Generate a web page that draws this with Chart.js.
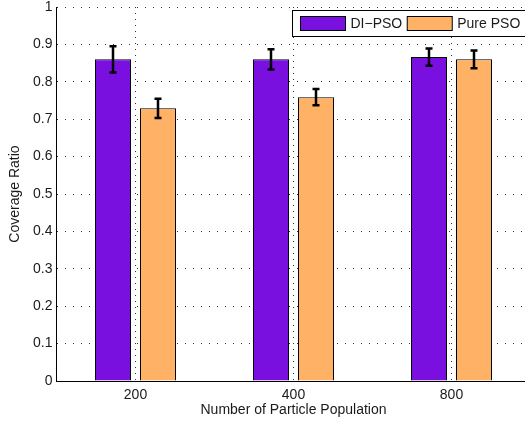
<!DOCTYPE html>
<html>
<head>
<meta charset="utf-8">
<script src="https://cdn.jsdelivr.net/npm/chart.js@4.4.1/dist/chart.umd.min.js"></script>
<style>
html, body { margin:0; padding:0; background:#fff; overflow:hidden; }
#wrap { width:540px; height:423px; }
</style>
</head>
<body>
<div id="wrap"><canvas id="chart" width="540" height="423"></canvas></div>
<script>
// data
const categories = ["200", "400", "800"];
const seriesNames = ["DI\u2212PSO", "Pure PSO"];
const diPso = [0.860, 0.860, 0.866];
const diPsoErr = [0.035, 0.027, 0.023];
const purePso = [0.729, 0.759, 0.860];
const purePsoErr = [0.026, 0.022, 0.024];
const yTickValues = [0, 0.1, 0.2, 0.3, 0.4, 0.5, 0.6, 0.7, 0.8, 0.9, 1];

const PURPLE = "#7a10e0";
const ORANGE = "#ffb266";
const TEXT = "#1a1a1a";
const GRID = "#333";
const FONT = "'Liberation Sans', Arial, Helvetica, sans-serif";

const errors = [diPsoErr, purePsoErr];

// error bars, positioned through the chart's own scales
const errorBarPlugin = {
  id: "errorBars",
  afterDatasetsDraw(chart){
    const ctx = chart.ctx;
    const y = chart.scales.y;
    ctx.save();
    ctx.strokeStyle = "#000";
    ctx.lineWidth = 2.5;
    chart.data.datasets.forEach((ds, i) => {
      const meta = chart.getDatasetMeta(i);
      meta.data.forEach((bar, j) => {
        const v = ds.data[j], e = errors[i][j];
        const top = y.getPixelForValue(v + e);
        const bot = y.getPixelForValue(v - e);
        const x = Math.round(bar.x);
        ctx.beginPath();
        ctx.moveTo(x, top); ctx.lineTo(x, bot);
        ctx.moveTo(x - 3.5, top); ctx.lineTo(x + 3.5, top);
        ctx.moveTo(x - 3.5, bot); ctx.lineTo(x + 3.5, bot);
        ctx.stroke();
      });
    });
    ctx.restore();
  }
};

// boxed legend inside the axes (top right), like the matlab one
const boxLegendPlugin = {
  id: "boxLegend",
  afterDraw(chart){
    const ctx = chart.ctx;
    const left = 292.5, top = 10.5, h = 26;
    ctx.save();
    ctx.fillStyle = "#fff";
    ctx.fillRect(left, top, 240, h);
    ctx.strokeStyle = "#000";
    ctx.lineWidth = 1;
    ctx.strokeRect(left, top, 240, h);
    ctx.font = "14px " + FONT;
    ctx.textBaseline = "middle";
    let x = left + 8;
    chart.data.datasets.forEach((ds) => {
      ctx.fillStyle = ds.backgroundColor;
      ctx.fillRect(x, top + 6, 45, 14);
      ctx.strokeRect(x, top + 6, 45, 14);
      ctx.fillStyle = TEXT;
      ctx.fillText(ds.label, x + 50, top + h / 2 + 0.5);
      x += 50 + ctx.measureText(ds.label).width + 5;
    });
    ctx.restore();
  }
};

new Chart(document.getElementById("chart").getContext("2d"), {
  type: "bar",
  data: {
    labels: categories,
    datasets: [
      { label: seriesNames[0], data: diPso, backgroundColor: PURPLE, borderColor: "#000", borderWidth: 1, inflateAmount: 0 },
      { label: seriesNames[1], data: purePso, backgroundColor: ORANGE, borderColor: "#000", borderWidth: 1, inflateAmount: 0 }
    ]
  },
  options: {
    responsive: false,
    animation: false,
    devicePixelRatio: 1,
    layout: { padding: { top: 7, right: 9.5, left: 0, bottom: 0 } },
    datasets: { bar: { categoryPercentage: 0.57, barPercentage: 0.8 } },
    plugins: { legend: { display: false }, tooltip: { enabled: false } },
    scales: {
      x: {
        type: "category",
        offset: true,
        grid: { offset: false, color: GRID, drawTicks: false, tickLength: 0 },
        border: { display: true, color: "#000", width: 1, dash: [1, 5] },
        ticks: { padding: 6, color: TEXT, font: { family: FONT, size: 14 } },
        title: { display: true, text: "Number of Particle Population", color: TEXT,
                 font: { family: FONT, size: 14 }, padding: { top: 0, bottom: 4 } },
        afterFit(s){ s.height = 42; s.paddingLeft = 0; s.paddingRight = 0; }
      },
      y: {
        min: 0, max: 1,
        afterBuildTicks(s){ s.ticks = yTickValues.map(v => ({ value: v })); },
        grid: { color: GRID, drawTicks: false, tickLength: 0 },
        border: { display: true, color: "#000", width: 1, dash: [1, 7] },
        ticks: { padding: 4, color: TEXT, font: { family: FONT, size: 14 },
                 callback: (v) => String(Math.round(v * 10) / 10) },
        title: { display: true, text: "Coverage Ratio", color: TEXT,
                 font: { family: FONT, size: 14 }, padding: { top: 7, bottom: 0 } },
        // top/bottom label overflow would push the plot down, keep it flush
        afterFit(s){ s.width = 56.5; s.paddingTop = 0; s.paddingBottom = 0; }
      }
    }
  },
  plugins: [errorBarPlugin, boxLegendPlugin]
});
</script>
</body>
</html>
